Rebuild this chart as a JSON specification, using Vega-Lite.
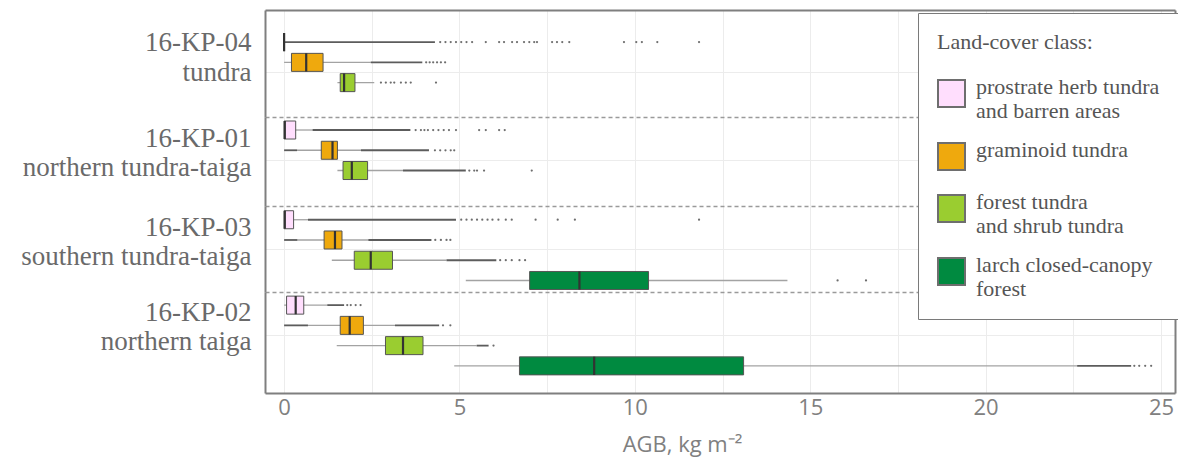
{
"$schema": "https://vega.github.io/schema/vega-lite/v6.json",
"padding": {"left": 20, "top": 10, "right": 0, "bottom": 30},
"config": {"view": {"stroke": null}, "font": "Liberation Serif"},
"spacing": 0,
"bounds": "flush",
"datasets": {
"boxes": [
{"site":"16-KP-04|tundra","cls":"prostrate herb tundra|and barren areas","lo":0,"q1":0,"med":0,"q3":0,"hi":0},
{"site":"16-KP-04|tundra","cls":"graminoid tundra","lo":0,"q1":0.21,"med":0.63,"q3":1.11,"hi":2.47},
{"site":"16-KP-04|tundra","cls":"forest tundra|and shrub tundra","lo":1.52,"q1":1.6,"med":1.71,"q3":2.02,"hi":2.57},
{"site":"16-KP-01|northern tundra-taiga","cls":"prostrate herb tundra|and barren areas","lo":0,"q1":0,"med":0.02,"q3":0.33,"hi":0.81},
{"site":"16-KP-01|northern tundra-taiga","cls":"graminoid tundra","lo":0.37,"q1":1.06,"med":1.38,"q3":1.52,"hi":2.19},
{"site":"16-KP-01|northern tundra-taiga","cls":"forest tundra|and shrub tundra","lo":1.52,"q1":1.68,"med":1.93,"q3":2.38,"hi":3.39},
{"site":"16-KP-03|southern tundra-taiga","cls":"prostrate herb tundra|and barren areas","lo":0,"q1":0,"med":0.02,"q3":0.27,"hi":0.68},
{"site":"16-KP-03|southern tundra-taiga","cls":"graminoid tundra","lo":0.38,"q1":1.14,"med":1.45,"q3":1.65,"hi":2.4},
{"site":"16-KP-03|southern tundra-taiga","cls":"forest tundra|and shrub tundra","lo":1.36,"q1":2.0,"med":2.47,"q3":3.09,"hi":4.63},
{"site":"16-KP-03|southern tundra-taiga","cls":"larch closed-canopy|forest","lo":5.18,"q1":7.0,"med":8.42,"q3":10.39,"hi":14.35},
{"site":"16-KP-02|northern taiga","cls":"prostrate herb tundra|and barren areas","lo":0,"q1":0.07,"med":0.33,"q3":0.56,"hi":1.23},
{"site":"16-KP-02|northern taiga","cls":"graminoid tundra","lo":0.68,"q1":1.6,"med":1.87,"q3":2.26,"hi":3.16},
{"site":"16-KP-02|northern taiga","cls":"forest tundra|and shrub tundra","lo":1.5,"q1":2.89,"med":3.39,"q3":3.96,"hi":5.49},
{"site":"16-KP-02|northern taiga","cls":"larch closed-canopy|forest","lo":4.85,"q1":6.71,"med":8.84,"q3":13.1,"hi":22.61}
],
"runs": [
{"site":"16-KP-04|tundra","cls":"prostrate herb tundra|and barren areas","from":0,"to":4.3},
{"site":"16-KP-04|tundra","cls":"graminoid tundra","from":2.47,"to":3.94},
{"site":"16-KP-01|northern tundra-taiga","cls":"prostrate herb tundra|and barren areas","from":0.81,"to":3.6},
{"site":"16-KP-01|northern tundra-taiga","cls":"graminoid tundra","from":0,"to":0.37},
{"site":"16-KP-01|northern tundra-taiga","cls":"graminoid tundra","from":2.19,"to":4.13},
{"site":"16-KP-01|northern tundra-taiga","cls":"forest tundra|and shrub tundra","from":3.39,"to":5.18},
{"site":"16-KP-03|southern tundra-taiga","cls":"prostrate herb tundra|and barren areas","from":0.68,"to":4.9},
{"site":"16-KP-03|southern tundra-taiga","cls":"graminoid tundra","from":0,"to":0.38},
{"site":"16-KP-03|southern tundra-taiga","cls":"graminoid tundra","from":2.4,"to":4.2},
{"site":"16-KP-03|southern tundra-taiga","cls":"forest tundra|and shrub tundra","from":4.63,"to":6.05},
{"site":"16-KP-02|northern taiga","cls":"prostrate herb tundra|and barren areas","from":1.23,"to":1.71},
{"site":"16-KP-02|northern taiga","cls":"graminoid tundra","from":0,"to":0.68},
{"site":"16-KP-02|northern taiga","cls":"graminoid tundra","from":3.16,"to":4.42},
{"site":"16-KP-02|northern taiga","cls":"forest tundra|and shrub tundra","from":5.49,"to":5.83},
{"site":"16-KP-02|northern taiga","cls":"larch closed-canopy|forest","from":22.61,"to":24.15}
],
"outliers": [
{"site":"16-KP-04|tundra","cls":"prostrate herb tundra|and barren areas","v":4.45},
{"site":"16-KP-04|tundra","cls":"prostrate herb tundra|and barren areas","v":4.6},
{"site":"16-KP-04|tundra","cls":"prostrate herb tundra|and barren areas","v":4.75},
{"site":"16-KP-04|tundra","cls":"prostrate herb tundra|and barren areas","v":4.9},
{"site":"16-KP-04|tundra","cls":"prostrate herb tundra|and barren areas","v":5.05},
{"site":"16-KP-04|tundra","cls":"prostrate herb tundra|and barren areas","v":5.2},
{"site":"16-KP-04|tundra","cls":"prostrate herb tundra|and barren areas","v":5.36},
{"site":"16-KP-04|tundra","cls":"prostrate herb tundra|and barren areas","v":5.75},
{"site":"16-KP-04|tundra","cls":"prostrate herb tundra|and barren areas","v":6.13},
{"site":"16-KP-04|tundra","cls":"prostrate herb tundra|and barren areas","v":6.27},
{"site":"16-KP-04|tundra","cls":"prostrate herb tundra|and barren areas","v":6.5},
{"site":"16-KP-04|tundra","cls":"prostrate herb tundra|and barren areas","v":6.64},
{"site":"16-KP-04|tundra","cls":"prostrate herb tundra|and barren areas","v":6.84},
{"site":"16-KP-04|tundra","cls":"prostrate herb tundra|and barren areas","v":6.99},
{"site":"16-KP-04|tundra","cls":"prostrate herb tundra|and barren areas","v":7.13},
{"site":"16-KP-04|tundra","cls":"prostrate herb tundra|and barren areas","v":7.21},
{"site":"16-KP-04|tundra","cls":"prostrate herb tundra|and barren areas","v":7.64},
{"site":"16-KP-04|tundra","cls":"prostrate herb tundra|and barren areas","v":7.78},
{"site":"16-KP-04|tundra","cls":"prostrate herb tundra|and barren areas","v":7.93},
{"site":"16-KP-04|tundra","cls":"prostrate herb tundra|and barren areas","v":8.13},
{"site":"16-KP-04|tundra","cls":"prostrate herb tundra|and barren areas","v":9.69},
{"site":"16-KP-04|tundra","cls":"prostrate herb tundra|and barren areas","v":10.04},
{"site":"16-KP-04|tundra","cls":"prostrate herb tundra|and barren areas","v":10.2},
{"site":"16-KP-04|tundra","cls":"prostrate herb tundra|and barren areas","v":10.64},
{"site":"16-KP-04|tundra","cls":"prostrate herb tundra|and barren areas","v":11.83},
{"site":"16-KP-04|tundra","cls":"graminoid tundra","v":4.05},
{"site":"16-KP-04|tundra","cls":"graminoid tundra","v":4.15},
{"site":"16-KP-04|tundra","cls":"graminoid tundra","v":4.25},
{"site":"16-KP-04|tundra","cls":"graminoid tundra","v":4.36},
{"site":"16-KP-04|tundra","cls":"graminoid tundra","v":4.47},
{"site":"16-KP-04|tundra","cls":"graminoid tundra","v":4.59},
{"site":"16-KP-04|tundra","cls":"forest tundra|and shrub tundra","v":2.76},
{"site":"16-KP-04|tundra","cls":"forest tundra|and shrub tundra","v":2.9},
{"site":"16-KP-04|tundra","cls":"forest tundra|and shrub tundra","v":3.04},
{"site":"16-KP-04|tundra","cls":"forest tundra|and shrub tundra","v":3.14},
{"site":"16-KP-04|tundra","cls":"forest tundra|and shrub tundra","v":3.33},
{"site":"16-KP-04|tundra","cls":"forest tundra|and shrub tundra","v":3.47},
{"site":"16-KP-04|tundra","cls":"forest tundra|and shrub tundra","v":3.61},
{"site":"16-KP-04|tundra","cls":"forest tundra|and shrub tundra","v":4.33},
{"site":"16-KP-01|northern tundra-taiga","cls":"prostrate herb tundra|and barren areas","v":3.75},
{"site":"16-KP-01|northern tundra-taiga","cls":"prostrate herb tundra|and barren areas","v":3.9},
{"site":"16-KP-01|northern tundra-taiga","cls":"prostrate herb tundra|and barren areas","v":4.0},
{"site":"16-KP-01|northern tundra-taiga","cls":"prostrate herb tundra|and barren areas","v":4.1},
{"site":"16-KP-01|northern tundra-taiga","cls":"prostrate herb tundra|and barren areas","v":4.25},
{"site":"16-KP-01|northern tundra-taiga","cls":"prostrate herb tundra|and barren areas","v":4.4},
{"site":"16-KP-01|northern tundra-taiga","cls":"prostrate herb tundra|and barren areas","v":4.55},
{"site":"16-KP-01|northern tundra-taiga","cls":"prostrate herb tundra|and barren areas","v":4.7},
{"site":"16-KP-01|northern tundra-taiga","cls":"prostrate herb tundra|and barren areas","v":4.9},
{"site":"16-KP-01|northern tundra-taiga","cls":"prostrate herb tundra|and barren areas","v":5.56},
{"site":"16-KP-01|northern tundra-taiga","cls":"prostrate herb tundra|and barren areas","v":5.75},
{"site":"16-KP-01|northern tundra-taiga","cls":"prostrate herb tundra|and barren areas","v":6.13},
{"site":"16-KP-01|northern tundra-taiga","cls":"prostrate herb tundra|and barren areas","v":6.29},
{"site":"16-KP-01|northern tundra-taiga","cls":"graminoid tundra","v":4.3},
{"site":"16-KP-01|northern tundra-taiga","cls":"graminoid tundra","v":4.45},
{"site":"16-KP-01|northern tundra-taiga","cls":"graminoid tundra","v":4.6},
{"site":"16-KP-01|northern tundra-taiga","cls":"graminoid tundra","v":4.75},
{"site":"16-KP-01|northern tundra-taiga","cls":"graminoid tundra","v":4.85},
{"site":"16-KP-01|northern tundra-taiga","cls":"forest tundra|and shrub tundra","v":5.28},
{"site":"16-KP-01|northern tundra-taiga","cls":"forest tundra|and shrub tundra","v":5.42},
{"site":"16-KP-01|northern tundra-taiga","cls":"forest tundra|and shrub tundra","v":5.5},
{"site":"16-KP-01|northern tundra-taiga","cls":"forest tundra|and shrub tundra","v":5.7},
{"site":"16-KP-01|northern tundra-taiga","cls":"forest tundra|and shrub tundra","v":7.06},
{"site":"16-KP-03|southern tundra-taiga","cls":"prostrate herb tundra|and barren areas","v":5.05},
{"site":"16-KP-03|southern tundra-taiga","cls":"prostrate herb tundra|and barren areas","v":5.2},
{"site":"16-KP-03|southern tundra-taiga","cls":"prostrate herb tundra|and barren areas","v":5.35},
{"site":"16-KP-03|southern tundra-taiga","cls":"prostrate herb tundra|and barren areas","v":5.5},
{"site":"16-KP-03|southern tundra-taiga","cls":"prostrate herb tundra|and barren areas","v":5.65},
{"site":"16-KP-03|southern tundra-taiga","cls":"prostrate herb tundra|and barren areas","v":5.8},
{"site":"16-KP-03|southern tundra-taiga","cls":"prostrate herb tundra|and barren areas","v":5.94},
{"site":"16-KP-03|southern tundra-taiga","cls":"prostrate herb tundra|and barren areas","v":6.11},
{"site":"16-KP-03|southern tundra-taiga","cls":"prostrate herb tundra|and barren areas","v":6.32},
{"site":"16-KP-03|southern tundra-taiga","cls":"prostrate herb tundra|and barren areas","v":6.49},
{"site":"16-KP-03|southern tundra-taiga","cls":"prostrate herb tundra|and barren areas","v":7.17},
{"site":"16-KP-03|southern tundra-taiga","cls":"prostrate herb tundra|and barren areas","v":7.8},
{"site":"16-KP-03|southern tundra-taiga","cls":"prostrate herb tundra|and barren areas","v":8.29},
{"site":"16-KP-03|southern tundra-taiga","cls":"prostrate herb tundra|and barren areas","v":11.83},
{"site":"16-KP-03|southern tundra-taiga","cls":"graminoid tundra","v":4.31},
{"site":"16-KP-03|southern tundra-taiga","cls":"graminoid tundra","v":4.47},
{"site":"16-KP-03|southern tundra-taiga","cls":"graminoid tundra","v":4.63},
{"site":"16-KP-03|southern tundra-taiga","cls":"graminoid tundra","v":4.74},
{"site":"16-KP-03|southern tundra-taiga","cls":"forest tundra|and shrub tundra","v":6.16},
{"site":"16-KP-03|southern tundra-taiga","cls":"forest tundra|and shrub tundra","v":6.32},
{"site":"16-KP-03|southern tundra-taiga","cls":"forest tundra|and shrub tundra","v":6.49},
{"site":"16-KP-03|southern tundra-taiga","cls":"forest tundra|and shrub tundra","v":6.71},
{"site":"16-KP-03|southern tundra-taiga","cls":"forest tundra|and shrub tundra","v":6.87},
{"site":"16-KP-03|southern tundra-taiga","cls":"larch closed-canopy|forest","v":15.78},
{"site":"16-KP-03|southern tundra-taiga","cls":"larch closed-canopy|forest","v":16.59},
{"site":"16-KP-02|northern taiga","cls":"prostrate herb tundra|and barren areas","v":1.8},
{"site":"16-KP-02|northern taiga","cls":"prostrate herb tundra|and barren areas","v":1.9},
{"site":"16-KP-02|northern taiga","cls":"prostrate herb tundra|and barren areas","v":2.04},
{"site":"16-KP-02|northern taiga","cls":"prostrate herb tundra|and barren areas","v":2.18},
{"site":"16-KP-02|northern taiga","cls":"graminoid tundra","v":4.53},
{"site":"16-KP-02|northern taiga","cls":"graminoid tundra","v":4.74},
{"site":"16-KP-02|northern taiga","cls":"forest tundra|and shrub tundra","v":5.97},
{"site":"16-KP-02|northern taiga","cls":"larch closed-canopy|forest","v":24.24},
{"site":"16-KP-02|northern taiga","cls":"larch closed-canopy|forest","v":24.38},
{"site":"16-KP-02|northern taiga","cls":"larch closed-canopy|forest","v":24.55},
{"site":"16-KP-02|northern taiga","cls":"larch closed-canopy|forest","v":24.72}
]
},
"vconcat": [
{
"width": 910, "height": 107,
"layer": [
{"data": {"name": "boxes"}, "transform": [{"filter": "indexof(datum.site, '16-KP-04') == 0"}],
 "mark": {"type": "rule", "color": "#a3a3a3", "strokeWidth": 1.3},
 "encoding": {
  "x": {"field": "lo", "type": "quantitative", "scale": {"domain": [-0.545, 25.4], "nice": false, "zero": false},
        "axis": {"orient": "top", "title": null, "labels": false, "ticks": false, "values": [0,2.5,5,7.5,10,12.5,15,17.5,20,22.5,25], "grid": true, "gridColor": "#ececec", "gridWidth": 1, "domainColor": "#7f7f7f", "domainWidth": 2}},
  "x2": {"field": "hi"},
  "y": {"field": "site", "type": "nominal", "scale": {"paddingInner": 0, "paddingOuter": 0.1605, "align": 0.846},
        "axis": {"orient": "left", "title": null, "ticks": false, "domainColor": "#7f7f7f", "domainWidth": 2, "grid": true, "gridColor": "#ececec", "labelFont": "Liberation Serif", "labelFontSize": 27, "labelColor": "#6a6a6a", "labelPadding": 14, "labelLineHeight": 30, "labelLimit": 400, "labelOffset": -29, "labelExpr": "split(datum.label, '|')"}},
  "yOffset": {"field": "cls", "type": "nominal", "scale": {"domain": ["prostrate herb tundra|and barren areas", "graminoid tundra", "forest tundra|and shrub tundra"], "paddingInner": 0.11, "paddingOuter": 0.055}}
 }},
{"data": {"name": "runs"}, "transform": [{"filter": "indexof(datum.site, '16-KP-04') == 0"}],
 "mark": {"type": "rule", "color": "#5c5c5c", "strokeWidth": 1.8},
 "encoding": {
  "x": {"field": "from", "type": "quantitative", "scale": {"domain": [-0.545, 25.4], "nice": false, "zero": false}},
  "x2": {"field": "to"},
  "y": {"field": "site", "type": "nominal", "axis": {"orient": "right", "title": null, "labels": false, "ticks": false, "grid": false, "domainColor": "#7f7f7f", "domainWidth": 2}},
  "yOffset": {"field": "cls", "type": "nominal"}
 }},
{"data": {"name": "boxes"}, "transform": [{"filter": "indexof(datum.site, '16-KP-04') == 0"}],
 "mark": {"type": "bar", "stroke": "#555555", "strokeWidth": 1, "opacity": 1},
 "encoding": {
  "x": {"field": "q1", "type": "quantitative", "scale": {"domain": [-0.545, 25.4], "nice": false, "zero": false}},
  "x2": {"field": "q3"},
  "y": {"field": "site", "type": "nominal", "axis": null},
  "yOffset": {"field": "cls", "type": "nominal"},
  "color": {"field": "cls", "type": "nominal", "scale": {"domain": ["prostrate herb tundra|and barren areas", "graminoid tundra", "forest tundra|and shrub tundra", "larch closed-canopy|forest"], "range": ["#ffdefd", "#efa90d", "#9acd30", "#008a40"]},
   "legend": {"title": "Land-cover class:", "orient": "none", "legendX": 653, "legendY": 3, "fillColor": "white", "strokeColor": "#7a7a7a", "padding": 19, "titleFont": "Liberation Serif", "titleFontSize": 22, "titleFontWeight": "normal", "titleColor": "#555555", "titlePadding": 25, "labelFont": "Liberation Serif", "labelFontSize": 22, "labelColor": "#555555", "labelLimit": 300, "labelOffset": 10, "labelBaseline": "alphabetic", "labelExpr": "split(datum.label, '|')", "symbolType": "square", "symbolSize": 729, "symbolStrokeColor": "#6e6e6e", "symbolStrokeWidth": 2, "rowPadding": 16}}
 }},
{"data": {"name": "boxes"}, "transform": [{"filter": "indexof(datum.site, '16-KP-04') == 0"}],
 "mark": {"type": "bar", "stroke": "#333333", "strokeWidth": 2.2, "fill": "#333333"},
 "encoding": {
  "x": {"field": "med", "type": "quantitative", "scale": {"domain": [-0.545, 25.4], "nice": false, "zero": false}},
  "x2": {"field": "med"},
  "y": {"field": "site", "type": "nominal", "axis": null},
  "yOffset": {"field": "cls", "type": "nominal"}
 }},
{"data": {"name": "outliers"}, "transform": [{"filter": "indexof(datum.site, '16-KP-04') == 0"}],
 "mark": {"type": "circle", "size": 5, "color": "#6e6e6e", "opacity": 1},
 "encoding": {
  "x": {"field": "v", "type": "quantitative", "scale": {"domain": [-0.545, 25.4], "nice": false, "zero": false}},
  "y": {"field": "site", "type": "nominal", "axis": null},
  "yOffset": {"field": "cls", "type": "nominal"}
 }}
],
"resolve": {"axis": {"y": "independent"}}
},
{
"width": 910, "height": 89,
"layer": [
{"data": {"name": "boxes"}, "transform": [{"filter": "indexof(datum.site, '16-KP-01') == 0"}],
 "mark": {"type": "rule", "color": "#a3a3a3", "strokeWidth": 1.3},
 "encoding": {
  "x": {"field": "lo", "type": "quantitative", "scale": {"domain": [-0.545, 25.4], "nice": false, "zero": false},
        "axis": {"orient": "top", "title": null, "labels": false, "ticks": false, "values": [0,2.5,5,7.5,10,12.5,15,17.5,20,22.5,25], "grid": true, "gridColor": "#ececec", "gridWidth": 1, "domainColor": "#9a9a9a", "domainWidth": 1.3, "domainDash": [4, 3]}},
  "x2": {"field": "hi"},
  "y": {"field": "site", "type": "nominal", "scale": {"paddingInner": 0, "paddingOuter": 0.0545, "align": 0.33},
        "axis": {"orient": "left", "title": null, "ticks": false, "domainColor": "#7f7f7f", "domainWidth": 2, "grid": true, "gridColor": "#ececec", "labelFont": "Liberation Serif", "labelFontSize": 27, "labelColor": "#6a6a6a", "labelPadding": 14, "labelLineHeight": 29, "labelLimit": 400, "labelOffset": -21, "labelExpr": "split(datum.label, '|')"}},
  "yOffset": {"field": "cls", "type": "nominal", "scale": {"domain": ["prostrate herb tundra|and barren areas", "graminoid tundra", "forest tundra|and shrub tundra"], "paddingInner": 0.11, "paddingOuter": 0.055}}
 }},
{"data": {"name": "runs"}, "transform": [{"filter": "indexof(datum.site, '16-KP-01') == 0"}],
 "mark": {"type": "rule", "color": "#5c5c5c", "strokeWidth": 1.8},
 "encoding": {
  "x": {"field": "from", "type": "quantitative", "scale": {"domain": [-0.545, 25.4], "nice": false, "zero": false}},
  "x2": {"field": "to"},
  "y": {"field": "site", "type": "nominal", "axis": {"orient": "right", "title": null, "labels": false, "ticks": false, "grid": false, "domainColor": "#7f7f7f", "domainWidth": 2}},
  "yOffset": {"field": "cls", "type": "nominal"}
 }},
{"data": {"name": "boxes"}, "transform": [{"filter": "indexof(datum.site, '16-KP-01') == 0"}],
 "mark": {"type": "bar", "stroke": "#555555", "strokeWidth": 1, "opacity": 1},
 "encoding": {
  "x": {"field": "q1", "type": "quantitative", "scale": {"domain": [-0.545, 25.4], "nice": false, "zero": false}},
  "x2": {"field": "q3"},
  "y": {"field": "site", "type": "nominal", "axis": null},
  "yOffset": {"field": "cls", "type": "nominal"},
  "color": {"field": "cls", "type": "nominal", "scale": {"domain": ["prostrate herb tundra|and barren areas", "graminoid tundra", "forest tundra|and shrub tundra", "larch closed-canopy|forest"], "range": ["#ffdefd", "#efa90d", "#9acd30", "#008a40"]}}
 }},
{"data": {"name": "boxes"}, "transform": [{"filter": "indexof(datum.site, '16-KP-01') == 0"}],
 "mark": {"type": "bar", "stroke": "#333333", "strokeWidth": 2.2, "fill": "#333333"},
 "encoding": {
  "x": {"field": "med", "type": "quantitative", "scale": {"domain": [-0.545, 25.4], "nice": false, "zero": false}},
  "x2": {"field": "med"},
  "y": {"field": "site", "type": "nominal", "axis": null},
  "yOffset": {"field": "cls", "type": "nominal"}
 }},
{"data": {"name": "outliers"}, "transform": [{"filter": "indexof(datum.site, '16-KP-01') == 0"}],
 "mark": {"type": "circle", "size": 5, "color": "#6e6e6e", "opacity": 1},
 "encoding": {
  "x": {"field": "v", "type": "quantitative", "scale": {"domain": [-0.545, 25.4], "nice": false, "zero": false}},
  "y": {"field": "site", "type": "nominal", "axis": null},
  "yOffset": {"field": "cls", "type": "nominal"}
 }}
],
"resolve": {"axis": {"y": "independent"}}
},
{
"width": 910, "height": 86,
"layer": [
{"data": {"name": "boxes"}, "transform": [{"filter": "indexof(datum.site, '16-KP-03') == 0"}],
 "mark": {"type": "rule", "color": "#a3a3a3", "strokeWidth": 1.3},
 "encoding": {
  "x": {"field": "lo", "type": "quantitative", "scale": {"domain": [-0.545, 25.4], "nice": false, "zero": false},
        "axis": {"orient": "top", "title": null, "labels": false, "ticks": false, "values": [0,2.5,5,7.5,10,12.5,15,17.5,20,22.5,25], "grid": true, "gridColor": "#ececec", "gridWidth": 1, "domainColor": "#9a9a9a", "domainWidth": 1.3, "domainDash": [4, 3]}},
  "x2": {"field": "hi"},
  "y": {"field": "site", "type": "nominal", "scale": {"paddingInner": 0, "paddingOuter": 0.0422, "align": 0.54},
        "axis": {"orient": "left", "title": null, "ticks": false, "domainColor": "#7f7f7f", "domainWidth": 2, "grid": true, "gridColor": "#ececec", "labelFont": "Liberation Serif", "labelFontSize": 27, "labelColor": "#6a6a6a", "labelPadding": 14, "labelLineHeight": 29, "labelLimit": 400, "labelOffset": -21, "labelExpr": "split(datum.label, '|')"}},
  "yOffset": {"field": "cls", "type": "nominal", "scale": {"domain": ["prostrate herb tundra|and barren areas", "graminoid tundra", "forest tundra|and shrub tundra", "larch closed-canopy|forest"], "paddingInner": 0.1, "paddingOuter": 0.05}}
 }},
{"data": {"name": "runs"}, "transform": [{"filter": "indexof(datum.site, '16-KP-03') == 0"}],
 "mark": {"type": "rule", "color": "#5c5c5c", "strokeWidth": 1.8},
 "encoding": {
  "x": {"field": "from", "type": "quantitative", "scale": {"domain": [-0.545, 25.4], "nice": false, "zero": false}},
  "x2": {"field": "to"},
  "y": {"field": "site", "type": "nominal", "axis": {"orient": "right", "title": null, "labels": false, "ticks": false, "grid": false, "domainColor": "#7f7f7f", "domainWidth": 2}},
  "yOffset": {"field": "cls", "type": "nominal"}
 }},
{"data": {"name": "boxes"}, "transform": [{"filter": "indexof(datum.site, '16-KP-03') == 0"}],
 "mark": {"type": "bar", "stroke": "#555555", "strokeWidth": 1, "opacity": 1},
 "encoding": {
  "x": {"field": "q1", "type": "quantitative", "scale": {"domain": [-0.545, 25.4], "nice": false, "zero": false}},
  "x2": {"field": "q3"},
  "y": {"field": "site", "type": "nominal", "axis": null},
  "yOffset": {"field": "cls", "type": "nominal"},
  "color": {"field": "cls", "type": "nominal", "scale": {"domain": ["prostrate herb tundra|and barren areas", "graminoid tundra", "forest tundra|and shrub tundra", "larch closed-canopy|forest"], "range": ["#ffdefd", "#efa90d", "#9acd30", "#008a40"]}}
 }},
{"data": {"name": "boxes"}, "transform": [{"filter": "indexof(datum.site, '16-KP-03') == 0"}],
 "mark": {"type": "bar", "stroke": "#333333", "strokeWidth": 2.2, "fill": "#333333"},
 "encoding": {
  "x": {"field": "med", "type": "quantitative", "scale": {"domain": [-0.545, 25.4], "nice": false, "zero": false}},
  "x2": {"field": "med"},
  "y": {"field": "site", "type": "nominal", "axis": null},
  "yOffset": {"field": "cls", "type": "nominal"}
 }},
{"data": {"name": "outliers"}, "transform": [{"filter": "indexof(datum.site, '16-KP-03') == 0"}],
 "mark": {"type": "circle", "size": 5, "color": "#6e6e6e", "opacity": 1},
 "encoding": {
  "x": {"field": "v", "type": "quantitative", "scale": {"domain": [-0.545, 25.4], "nice": false, "zero": false}},
  "y": {"field": "site", "type": "nominal", "axis": null},
  "yOffset": {"field": "cls", "type": "nominal"}
 }}
],
"resolve": {"axis": {"y": "independent"}}
},
{
"width": 910, "height": 101,
"layer": [
{"data": {"name": "boxes"}, "transform": [{"filter": "indexof(datum.site, '16-KP-02') == 0"}],
 "mark": {"type": "rule", "color": "#a3a3a3", "strokeWidth": 1.3},
 "encoding": {
  "x": {"field": "lo", "type": "quantitative", "scale": {"domain": [-0.545, 25.4], "nice": false, "zero": false},
        "axis": {"orient": "top", "title": null, "labels": false, "ticks": false, "values": [0,2.5,5,7.5,10,12.5,15,17.5,20,22.5,25], "grid": true, "gridColor": "#ececec", "gridWidth": 1, "domainColor": "#9a9a9a", "domainWidth": 1.3, "domainDash": [4, 3]}},
  "x2": {"field": "hi"},
  "y": {"field": "site", "type": "nominal", "scale": {"paddingInner": 0, "paddingOuter": 0.131, "align": 0.143},
        "axis": {"orient": "left", "title": null, "ticks": false, "domainColor": "#7f7f7f", "domainWidth": 2, "grid": true, "gridColor": "#ececec", "labelFont": "Liberation Serif", "labelFontSize": 27, "labelColor": "#6a6a6a", "labelPadding": 14, "labelLineHeight": 29, "labelLimit": 400, "labelOffset": -22, "labelExpr": "split(datum.label, '|')"}},
  "yOffset": {"field": "cls", "type": "nominal", "scale": {"domain": ["prostrate herb tundra|and barren areas", "graminoid tundra", "forest tundra|and shrub tundra", "larch closed-canopy|forest"], "paddingInner": 0.1, "paddingOuter": 0.05}}
 }},
{"data": {"name": "runs"}, "transform": [{"filter": "indexof(datum.site, '16-KP-02') == 0"}],
 "mark": {"type": "rule", "color": "#5c5c5c", "strokeWidth": 1.8},
 "encoding": {
  "x": {"field": "from", "type": "quantitative", "scale": {"domain": [-0.545, 25.4], "nice": false, "zero": false},
        "axis": {"orient": "bottom", "title": "AGB, kg m⁻²", "values": [0, 5, 10, 15, 20, 25], "grid": false, "ticks": false, "domainColor": "#7f7f7f", "domainWidth": 2, "labelFont": "Open Sans", "labelFontSize": 22, "labelColor": "#808080", "labelPadding": 4, "titleFont": "Open Sans", "titleFontSize": 22, "titleFontWeight": "normal", "titleColor": "#808080", "titlePadding": 16, "titleX": 417}},
  "x2": {"field": "to"},
  "y": {"field": "site", "type": "nominal", "axis": {"orient": "right", "title": null, "labels": false, "ticks": false, "grid": false, "domainColor": "#7f7f7f", "domainWidth": 2}},
  "yOffset": {"field": "cls", "type": "nominal"}
 }},
{"data": {"name": "boxes"}, "transform": [{"filter": "indexof(datum.site, '16-KP-02') == 0"}],
 "mark": {"type": "bar", "stroke": "#555555", "strokeWidth": 1, "opacity": 1},
 "encoding": {
  "x": {"field": "q1", "type": "quantitative", "scale": {"domain": [-0.545, 25.4], "nice": false, "zero": false}, "axis": null},
  "x2": {"field": "q3"},
  "y": {"field": "site", "type": "nominal", "axis": null},
  "yOffset": {"field": "cls", "type": "nominal"},
  "color": {"field": "cls", "type": "nominal", "scale": {"domain": ["prostrate herb tundra|and barren areas", "graminoid tundra", "forest tundra|and shrub tundra", "larch closed-canopy|forest"], "range": ["#ffdefd", "#efa90d", "#9acd30", "#008a40"]}}
 }},
{"data": {"name": "boxes"}, "transform": [{"filter": "indexof(datum.site, '16-KP-02') == 0"}],
 "mark": {"type": "bar", "stroke": "#333333", "strokeWidth": 2.2, "fill": "#333333"},
 "encoding": {
  "x": {"field": "med", "type": "quantitative", "scale": {"domain": [-0.545, 25.4], "nice": false, "zero": false}, "axis": null},
  "x2": {"field": "med"},
  "y": {"field": "site", "type": "nominal", "axis": null},
  "yOffset": {"field": "cls", "type": "nominal"}
 }},
{"data": {"name": "outliers"}, "transform": [{"filter": "indexof(datum.site, '16-KP-02') == 0"}],
 "mark": {"type": "circle", "size": 5, "color": "#6e6e6e", "opacity": 1},
 "encoding": {
  "x": {"field": "v", "type": "quantitative", "scale": {"domain": [-0.545, 25.4], "nice": false, "zero": false}, "axis": null},
  "y": {"field": "site", "type": "nominal", "axis": null},
  "yOffset": {"field": "cls", "type": "nominal"}
 }}
],
"resolve": {"axis": {"y": "independent", "x": "independent"}}
}
]
}
